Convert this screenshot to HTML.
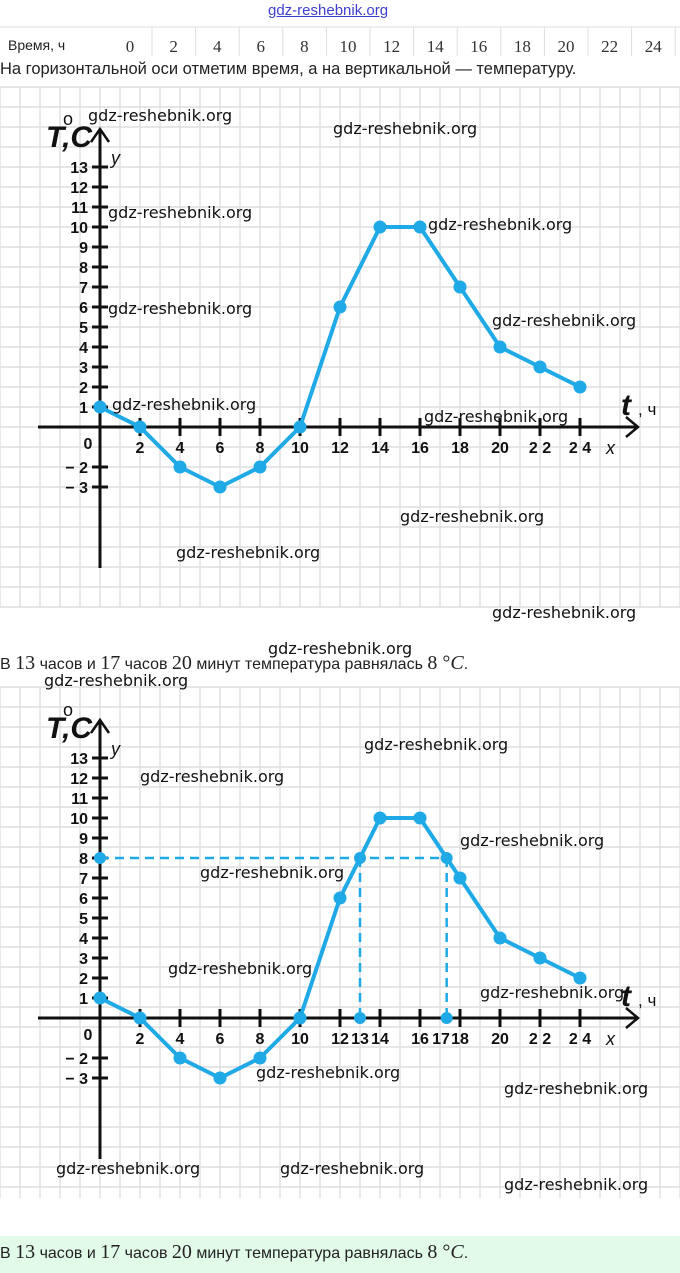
<!DOCTYPE html>
<html><head><meta charset="utf-8"><style>
body{margin:0;width:680px;height:1273px;background:#fff;position:relative;overflow:hidden;font-family:"Liberation Sans","DejaVu Sans",sans-serif}
.t{position:absolute;white-space:nowrap;color:#222}
.serif{font-family:"Liberation Serif",serif;font-size:20px}
</style></head><body>
<div class="t" style="left:268px;top:2px;font-size:15px;color:#4040d0;text-decoration:underline">gdz-reshebnik.org</div>
<div style="position:absolute;left:0;top:1236px;width:680px;height:37px;background:#e2fbe9"></div>
<div class="t" style="left:8px;top:37px;font-size:14px">Время, ч</div>
<div class="t" style="left:0;top:60px;font-size:16.5px">На горизонтальной оси отметим время, а на вертикальной — температуру.</div>
<div class="t" style="left:0;top:652px;font-size:16px">В <span class="serif">13</span> часов и <span class="serif">17</span> часов <span class="serif">20</span> минут температура равнялась <span class="serif">8 °<i>C</i></span>.</div>
<div class="t" style="left:0;top:1241px;font-size:16px">В <span class="serif">13</span> часов и <span class="serif">17</span> часов <span class="serif">20</span> минут температура равнялась <span class="serif">8 °<i>C</i></span>.</div>
<svg id="s" width="680" height="1273" style="position:absolute;left:0;top:0"></svg>
<script>
const hours=[0,2,4,6,8,10,12,14,16,18,20,22,24];
const temps=[1,0,-2,-3,-2,0,6,10,10,7,4,3,2];
const yTicks=[13,12,11,10,9,8,7,6,5,4,3,2,1,-2,-3];
const xTicks1=[2,4,6,8,10,12,14,16,18,20,22,24];
const xTicks2=[2,4,6,8,10,12,14,16,18,20,22,24];
const targetTemp=8;
const crossTimes=[13,17+20/60];
const crossLabels=["13","17"];
const NS="http://www.w3.org/2000/svg";
const svg=document.getElementById('s');
function mk(tag,attrs,name,parent){const e=document.createElementNS(NS,tag);for(const k in attrs)e.setAttribute(k,attrs[k]);


(parent||svg).appendChild(e);return e;}
function txt(x,y,s,name,extra){const e=mk('text',Object.assign({x:x,y:y,'font-size':16,'font-family':'Liberation Sans, sans-serif',fill:'#111'},extra||{}),name);e.textContent=s;return e;}
for(let i=0;i<hours.length;i++){const x=130+i*43.6;
 txt(x,52,String(hours[i]),'table-hour',{'font-family':'Liberation Serif, serif','font-size':17,'text-anchor':'middle',fill:'#333'});
 mk('line',{x1:x+22,y1:27,x2:x+22,y2:56,stroke:'#ddd'},'table-divider');}
mk('line',{x1:0,y1:27,x2:680,y2:27,stroke:'#ddd'},'table-border');
function grid(y0,y1){for(let x=0;x<=680;x+=20)mk('line',{x1:x,y1:y0,x2:x,y2:y1,stroke:'#dedede','stroke-width':1.4},'grid-line');
 for(let y=y0;y<=y1;y+=20)mk('line',{x1:0,y1:y,x2:680,y2:y,stroke:'#dedede','stroke-width':1.4},'grid-line');}
grid(87,607);grid(687,1198);
function chart(ox,oy,xt,second){
 const sx=t=>ox+t*20, sy=v=>oy-v*20;
 mk('line',{x1:38,y1:oy,x2:638,y2:oy,stroke:'#111','stroke-width':3},'x-axis');
 mk('polyline',{points:`${626},${oy-10} ${638},${oy} ${626},${oy+10}`,fill:'none',stroke:'#111','stroke-width':2.5},'x-axis-arrow');
 mk('line',{x1:ox,y1:oy-298,x2:ox,y2:oy+141,stroke:'#111','stroke-width':3},'y-axis');
 mk('polyline',{points:`${ox-9},${oy-285} ${ox},${oy-298} ${ox+9},${oy-285}`,fill:'none',stroke:'#111','stroke-width':2.5},'y-axis-arrow');
 yTicks.forEach(v=>{mk('line',{x1:ox-8,y1:sy(v),x2:ox+8,y2:sy(v),stroke:'#111','stroke-width':3},'y-tick');
  txt(ox-12,sy(v)+6,(v<0?'− ':'')+Math.abs(v),'y-tick-label',{'text-anchor':'end','font-weight':'bold','font-size':16});});
 xt.forEach(t=>{mk('line',{x1:sx(t),y1:oy-9,x2:sx(t),y2:oy+9,stroke:'#111','stroke-width':3},'x-tick');
  let lab=String(t); if(t==22)lab='2 2'; if(t==24)lab='2 4';
  txt(sx(t),oy+26,lab,'x-tick-label',{'text-anchor':'middle','font-weight':'bold','font-size':16});});
 txt(ox-12,oy+22,'0','origin-label',{'font-weight':'bold','text-anchor':'middle'});
 txt(606,oy+27,'x','x-axis-name',{'font-style':'italic','font-size':18});
 txt(111,oy-263,'y','y-axis-name',{'font-style':'italic','font-size':18});
 txt(621,oy-12,'t','x-axis-title',{'font-style':'italic','font-weight':'bold','font-size':30});
 txt(638,oy-12,', ч','x-axis-unit',{'font-size':17});
 txt(46,oy-280,'T,C','y-axis-title',{'font-style':'italic','font-weight':'bold','font-size':30});
 txt(63,oy-302,'o','degree-sign',{'font-size':18});
 if(second){
  crossTimes.forEach((t,i)=>{mk('line',{x1:sx(t),y1:sy(targetTemp),x2:sx(t),y2:oy,stroke:'#1fa9e6','stroke-width':2.5,'stroke-dasharray':'9 6'},'dashed-drop');
   mk('circle',{cx:sx(t),cy:oy,r:6,fill:'#1fa9e6'},'crossing-foot');
   mk('circle',{cx:sx(t),cy:sy(targetTemp),r:6,fill:'#1fa9e6'},'crossing-point');
   txt(sx(Math.floor(t))+ (i?1:0),oy+26,crossLabels[i],'x-tick-label-cross',{'text-anchor':'middle','font-weight':'bold','font-size':16});});
  mk('line',{x1:ox,y1:sy(targetTemp),x2:sx(crossTimes[1]),y2:sy(targetTemp),stroke:'#1fa9e6','stroke-width':2.5,'stroke-dasharray':'9 6'},'dashed-level');
  mk('circle',{cx:ox,cy:sy(targetTemp),r:6,fill:'#1fa9e6'},'level-point');
 }
 mk('polyline',{points:hours.map((t,i)=>sx(t)+','+sy(temps[i])).join(' '),fill:'none',stroke:'#1fa9e6','stroke-width':4,'stroke-linejoin':'round'},'temperature-line');
 hours.forEach((t,i)=>mk('circle',{cx:sx(t),cy:sy(temps[i]),r:6.5,fill:'#1fa9e6'},'temperature-point'));
}
chart(100,427,xTicks1,false);
chart(100,1018,xTicks2,true);
const wm=[[88,121],[333,134],[108,218],[428,230],[108,314],[492,326],[112,410],[424,422],[400,522],[176,558],[492,618],[268,654],[44,686],[364,750],[140,782],[460,846],[200,878],[168,974],[480,998],[256,1078],[504,1094],[56,1174],[280,1174],[504,1190]];
wm.forEach(p=>txt(p[0],p[1],'gdz-reshebnik.org','watermark',{'font-size':16,fill:'#111','font-family':'DejaVu Sans, sans-serif'}));
</script>
</body></html>
